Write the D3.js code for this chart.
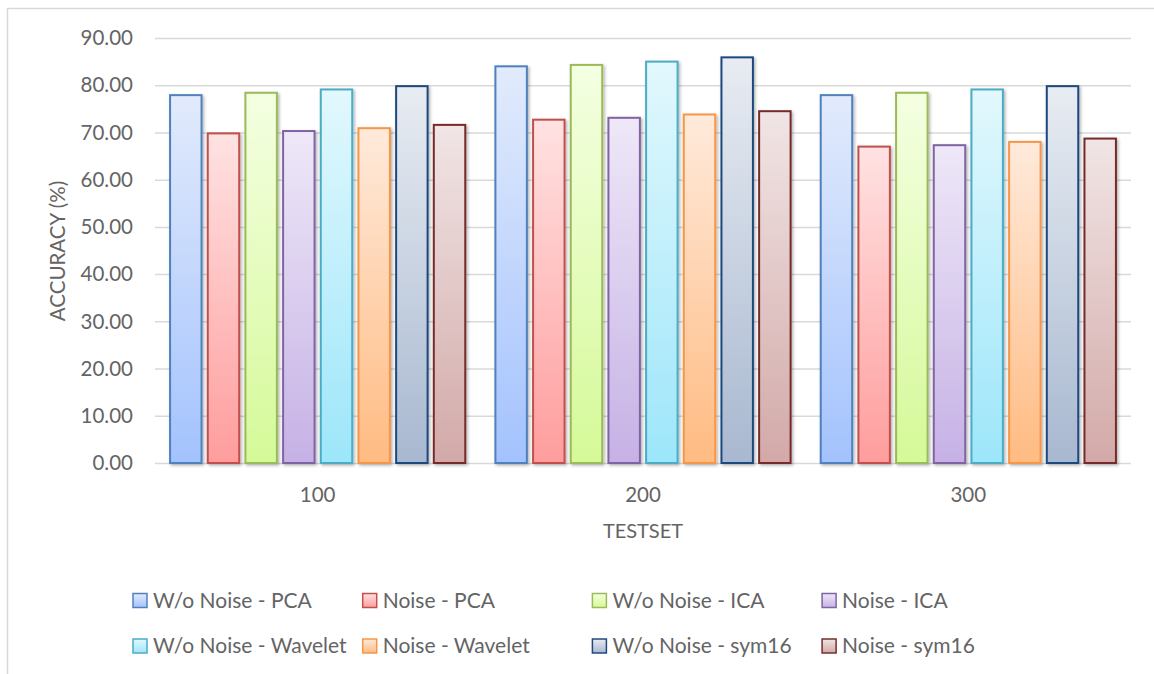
<!DOCTYPE html>
<html>
<head>
<meta charset="utf-8">
<script src="https://cdn.jsdelivr.net/npm/d3@7"></script>
<style>
  body { margin: 0; background: #fff; }
  text { font-family: Lato, "Open Sans", sans-serif; fill: #646464; }
</style>
</head>
<body>
<div id="chart"></div>
<script>
// data
const testsets = ["100", "200", "300"];
const seriesNames = [
    "W/o Noise - PCA", "Noise - PCA", "W/o Noise - ICA", "Noise - ICA",
    "W/o Noise - Wavelet", "Noise - Wavelet", "W/o Noise - sym16", "Noise - sym16"
];
const woNoisePCA     = [77.9, 84.0, 77.9];
const noisePCA       = [69.8, 72.7, 67.0];
const woNoiseICA     = [78.4, 84.3, 78.4];
const noiseICA       = [70.3, 73.1, 67.3];
const woNoiseWavelet = [79.1, 85.0, 79.1];
const noiseWavelet   = [70.9, 73.8, 68.0];
const woNoiseSym16   = [79.8, 85.9, 79.8];
const noiseSym16     = [71.6, 74.5, 68.7];
const yTicks = [0, 10, 20, 30, 40, 50, 60, 70, 80, 90];

const allValues = [woNoisePCA, noisePCA, woNoiseICA, noiseICA,
    woNoiseWavelet, noiseWavelet, woNoiseSym16, noiseSym16];

// stroke, gradient top, gradient bottom
const colors = [
    ["#4f81bd", "#e2ebfc", "#a3c2fd"],
    ["#c0504d", "#ffe2e2", "#ff9d9d"],
    ["#9bbb59", "#f4ffe2", "#d5f998"],
    ["#8064a2", "#eee8f8", "#c6b1e5"],
    ["#4bacc6", "#e2f8fd", "#9de6fa"],
    ["#f79646", "#ffeadb", "#ffbb82"],
    ["#1f497d", "#e8ecf2", "#a8b8d0"],
    ["#772c2a", "#f1e5e5", "#d2a9a8"]
];

const W = 1154, H = 674;
const svg = d3.select("#chart").append("svg")
    .attr("width", W).attr("height", H);

const defs = svg.append("defs");
colors.forEach((c, i) => {
    const lg = defs.append("linearGradient")
        .attr("id", "grad" + i)
        .attr("x1", 0).attr("y1", 0).attr("x2", 0).attr("y2", 1);
    lg.append("stop").attr("offset", "0%").attr("stop-color", c[1]);
    lg.append("stop").attr("offset", "100%").attr("stop-color", c[2]);
});
const shadow = defs.append("filter").attr("id", "shadow")
    .attr("x", "-20%").attr("y", "-10%").attr("width", "150%").attr("height", "120%");
shadow.append("feDropShadow")
    .attr("dx", 1.5).attr("dy", 1.5).attr("stdDeviation", 1.5)
    .attr("flood-color", "#000").attr("flood-opacity", 0.3);

// outer frame
svg.append("rect")
    .attr("x", 7.5).attr("y", 8.5)
    .attr("width", W).attr("height", H)
    .attr("fill", "none").attr("stroke", "#d9d9d9").attr("stroke-width", 1.5);

const plotLeft = 155, plotRight = 1131, plotTop = 38, plotBottom = 463;

const x0 = d3.scaleBand().domain(testsets).range([plotLeft, plotRight]).paddingInner(0).paddingOuter(0);
const x1 = d3.scaleBand().domain(d3.range(seriesNames.length))
    .range([0, x0.bandwidth()]).paddingInner(0.165).paddingOuter(0.4);
const y = d3.scaleLinear().domain([0, 90]).range([plotBottom, plotTop]);

// gridlines
svg.append("g")
    .attr("transform", `translate(${plotLeft},0)`)
    .call(d3.axisLeft(y).tickValues(yTicks).tickSize(-(plotRight - plotLeft)).tickFormat(""))
    .call(g => g.select(".domain").remove())
    .selectAll(".tick line")
    .attr("stroke", "#d9d9d9").attr("stroke-width", 1.5);

// y tick labels
svg.append("g")
    .selectAll("text")
    .data(yTicks)
    .join("text")
    .attr("x", 133)
    .attr("y", d => y(d))
    .attr("dy", "0.35em")
    .attr("text-anchor", "end")
    .style("font-size", "20.5px")
    .text(d => d.toFixed(2));

// bars
const groups = svg.append("g")
    .selectAll("g")
    .data(testsets)
    .join("g")
    .attr("transform", d => `translate(${x0(d)},0)`);

groups.selectAll("rect")
    .data((d, i) => allValues.map((vals, s) => ({ s: s, v: vals[i] })))
    .join("rect")
    .attr("x", d => x1(d.s))
    .attr("y", d => y(d.v))
    .attr("width", x1.bandwidth())
    .attr("height", d => plotBottom - y(d.v))
    .attr("fill", d => `url(#grad${d.s})`)
    .attr("stroke", d => colors[d.s][0])
    .attr("stroke-width", 2)
    .attr("filter", "url(#shadow)");

// category labels
svg.append("g")
    .selectAll("text")
    .data(testsets)
    .join("text")
    .attr("x", d => x0(d) + x0.bandwidth() / 2)
    .attr("y", 495)
    .attr("dy", "0.35em")
    .attr("text-anchor", "middle")
    .style("font-size", "20.5px")
    .text(d => d);

// axis titles
svg.append("text")
    .attr("x", (plotLeft + plotRight) / 2)
    .attr("y", 531)
    .attr("dy", "0.35em")
    .attr("text-anchor", "middle")
    .style("font-size", "20px")
    .text("TESTSET");

svg.append("text")
    .attr("transform", "translate(58,251) rotate(-90)")
    .attr("dy", "0.35em")
    .attr("text-anchor", "middle")
    .style("font-size", "20.5px")
    .text("ACCURACY (%)");

// legend
const legend = svg.append("g")
    .selectAll("g")
    .data(seriesNames)
    .join("g")
    .attr("transform", (d, i) => `translate(${133 + (i % 4) * 229.7},${i < 4 ? 600.5 : 646})`);

legend.append("rect")
    .attr("x", 0).attr("y", -7)
    .attr("width", 14).attr("height", 14)
    .attr("fill", (d, i) => `url(#grad${i})`)
    .attr("stroke", (d, i) => colors[i][0])
    .attr("stroke-width", 1.5);

legend.append("text")
    .attr("x", 20)
    .attr("y", 0)
    .attr("dy", "0.35em")
    .style("font-size", "21px")
    .text(d => d);
</script>
</body>
</html>
